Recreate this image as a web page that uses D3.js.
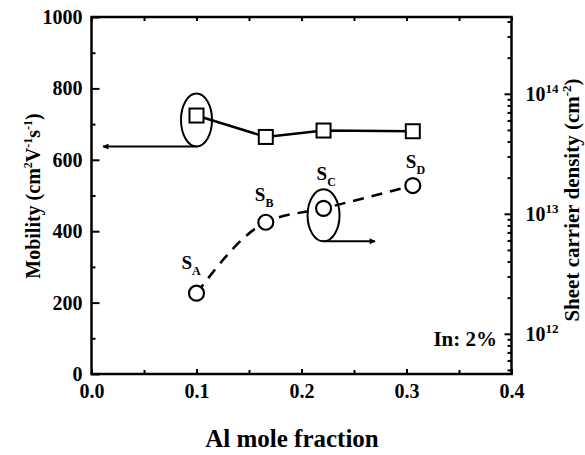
<!DOCTYPE html>
<html><head><meta charset="utf-8">
<script src="https://cdn.jsdelivr.net/npm/d3@7"></script>
<style>body{margin:0;background:#fff;} text{font-family:"Liberation Serif","Tinos","Times New Roman","Nimbus Roman","DejaVu Serif","Noto Serif",serif;font-weight:bold;fill:#000;}</style>
</head><body><svg id="c" width="585" height="455"></svg>
<script>
const alFraction = [0.1, 0.166, 0.221, 0.306];
const mobility = [724, 664, 682, 680];
const sheetDensity = [2.18e12, 8.5e12, 1.11e13, 1.72e13];
const sampleLabels = ["A", "B", "C", "D"];
const xTicks = [0, 0.1, 0.2, 0.3, 0.4];
const xMinorTicks = [0.05, 0.15, 0.25, 0.35];
const yTicks = [0, 200, 400, 600, 800, 1000];
const yMinorTicks = [100, 300, 500, 700, 900];
const rTicks = [1e12, 1e13, 1e14];
const rExps = ["12", "13", "14"];

const FONT = '"Liberation Serif","Tinos","Times New Roman","Nimbus Roman","DejaVu Serif","Noto Serif",serif';
const svg = d3.select("#c");
const L = 91.5, R = 511.5, T = 17, B = 374;
const x = d3.scaleLinear().domain([0, 0.4]).range([L, R]);
const yL = d3.scaleLinear().domain([0, 1000]).range([B, T]);
const yR = d3.scaleLog().domain([Math.pow(10, 11.665), Math.pow(10, 14.64)]).range([B, T]);

const rMinor = [];
for (let e = 11; e <= 14; e++) for (let k = 2; k <= 9; k++) {
  const v = k * Math.pow(10, e);
  if (v > yR.domain()[0] && v < yR.domain()[1]) rMinor.push(v);
}

function styleAxis(g) {
  g.attr("font-family", null).attr("font-size", null);
  g.select(".domain").remove();
  g.selectAll(".tick line").attr("stroke", "#000").attr("stroke-width", 2);
  g.selectAll(".tick text").style("font-size", "20px").style("font-family", FONT).style("font-weight", "bold");
}

// bottom
svg.append("g").attr("transform", `translate(0,${B})`)
  .call(d3.axisBottom(x).tickValues(xTicks).tickSize(-5).tickPadding(10).tickFormat(d3.format(".1f"))).call(styleAxis);
svg.append("g").attr("transform", `translate(0,${B})`)
  .call(d3.axisBottom(x).tickValues(xMinorTicks).tickSize(-4).tickFormat("")).call(styleAxis);
// top
svg.append("g").attr("transform", `translate(0,${T})`)
  .call(d3.axisTop(x).tickValues(xTicks.concat(xMinorTicks)).tickSize(-4).tickFormat("")).call(styleAxis);
// left
svg.append("g").attr("transform", `translate(${L},0)`)
  .call(d3.axisLeft(yL).tickValues(yTicks).tickSize(-8).tickPadding(9).tickFormat(d3.format("d"))).call(styleAxis);
svg.append("g").attr("transform", `translate(${L},0)`)
  .call(d3.axisLeft(yL).tickValues(yMinorTicks).tickSize(-4).tickFormat("")).call(styleAxis);
// right
const gr = svg.append("g").attr("transform", `translate(${R},0)`)
  .call(d3.axisRight(yR).tickValues(rTicks).tickSize(-7).tickPadding(14).tickFormat(() => "")).call(styleAxis);
gr.selectAll(".tick text").each(function(d, i) {
  const t = d3.select(this);
  t.append("tspan").text("10");
  t.append("tspan").attr("dy", "-8").style("font-size", "13px").text(rExps[i]);
});
svg.append("g").attr("transform", `translate(${R},0)`)
  .call(d3.axisRight(yR).tickValues(rMinor).tickSize(-4).tickFormat("")).call(styleAxis);

// frame
svg.append("rect").attr("x", L).attr("y", T).attr("width", R - L).attr("height", B - T)
  .attr("fill", "none").attr("stroke", "#000").attr("stroke-width", 2.5);

// titles
svg.append("text").attr("x", 292).attr("y", 447).attr("text-anchor", "middle").style("font-size", "25px").text("Al mole fraction");
const lt = svg.append("text").attr("transform", "translate(40,196) rotate(-90)").attr("text-anchor", "middle").style("font-size", "20px");
lt.append("tspan").text("Mobility (cm");
lt.append("tspan").attr("dy", -8).style("font-size", "12px").text("2");
lt.append("tspan").attr("dy", 8).text("V");
lt.append("tspan").attr("dy", -8).style("font-size", "12px").text("-1");
lt.append("tspan").attr("dy", 8).text("s");
lt.append("tspan").attr("dy", -8).style("font-size", "12px").text("-1");
lt.append("tspan").attr("dy", 8).text(")");
const rt = svg.append("text").attr("transform", "translate(579,200) rotate(-90)").attr("text-anchor", "middle").style("font-size", "21px");
rt.append("tspan").text("Sheet carrier density (cm");
rt.append("tspan").attr("dy", -8).style("font-size", "13px").text("-2");
rt.append("tspan").attr("dy", 8).text(")");

svg.append("text").attr("x", 497).attr("y", 346).attr("text-anchor", "end").style("font-size", "21px").text("In: 2%");

// dashed density curve
const dpts = alFraction.map((a, i) => [x(a), yR(sheetDensity[i])]);
svg.append("path").attr("d", d3.line().curve(d3.curveMonotoneX)(dpts))
  .attr("fill", "none").attr("stroke", "#000").attr("stroke-width", 2.5).attr("stroke-dasharray", "11,8");
// mobility line
const mpts = alFraction.map((a, i) => [x(a), yL(mobility[i])]);
svg.append("path").attr("d", d3.line()(mpts)).attr("fill", "none").attr("stroke", "#000").attr("stroke-width", 2.5);

// ellipses + arrows
const defs = svg.append("defs");
defs.append("marker").attr("id", "ah").attr("viewBox", "0 0 10 10").attr("refX", 9).attr("refY", 5)
  .attr("markerWidth", 9).attr("markerHeight", 6).attr("markerUnits", "userSpaceOnUse").attr("orient", "auto")
  .append("path").attr("d", "M0,0 L10,5 L0,10 Z").attr("fill", "#000");
const e1 = {cx: x(alFraction[0]), cy: yL(mobility[0]) + 4.5, rx: 15.5, ry: 26.5};
const e2 = {cx: x(alFraction[2]), cy: yR(sheetDensity[2]) + 7, rx: 16, ry: 26};
[e1, e2].forEach(e => svg.append("ellipse").attr("cx", e.cx).attr("cy", e.cy).attr("rx", e.rx).attr("ry", e.ry)
  .attr("fill", "none").attr("stroke", "#000").attr("stroke-width", 2));
svg.append("line").attr("x1", e1.cx).attr("y1", e1.cy + e1.ry).attr("x2", x(0.011)).attr("y2", e1.cy + e1.ry)
  .attr("stroke", "#000").attr("stroke-width", 2).attr("marker-end", "url(#ah)");
svg.append("line").attr("x1", e2.cx).attr("y1", e2.cy + e2.ry).attr("x2", x(0.27)).attr("y2", e2.cy + e2.ry)
  .attr("stroke", "#000").attr("stroke-width", 2).attr("marker-end", "url(#ah)");

// markers
svg.selectAll(".sq").data(mpts).enter().append("rect").attr("x", d => d[0] - 7).attr("y", d => d[1] - 7)
  .attr("width", 14).attr("height", 14).attr("fill", "#fff").attr("stroke", "#000").attr("stroke-width", 2);
svg.selectAll(".ci").data(dpts).enter().append("circle").attr("cx", d => d[0]).attr("cy", d => d[1]).attr("r", 7.5)
  .attr("fill", "#fff").attr("stroke", "#000").attr("stroke-width", 2.2);

// sample labels (offsets relative to each point, layout only)
const labelOffset = [[-15, -24], [-11, -21], [-7, -28], [-7, -18]];
dpts.forEach((d, i) => {
  const t = svg.append("text").attr("x", d[0] + labelOffset[i][0]).attr("y", d[1] + labelOffset[i][1]).style("font-size", "19px");
  t.append("tspan").text("S");
  t.append("tspan").attr("dy", 6).style("font-size", "12px").text(sampleLabels[i]);
});
</script></body></html>
